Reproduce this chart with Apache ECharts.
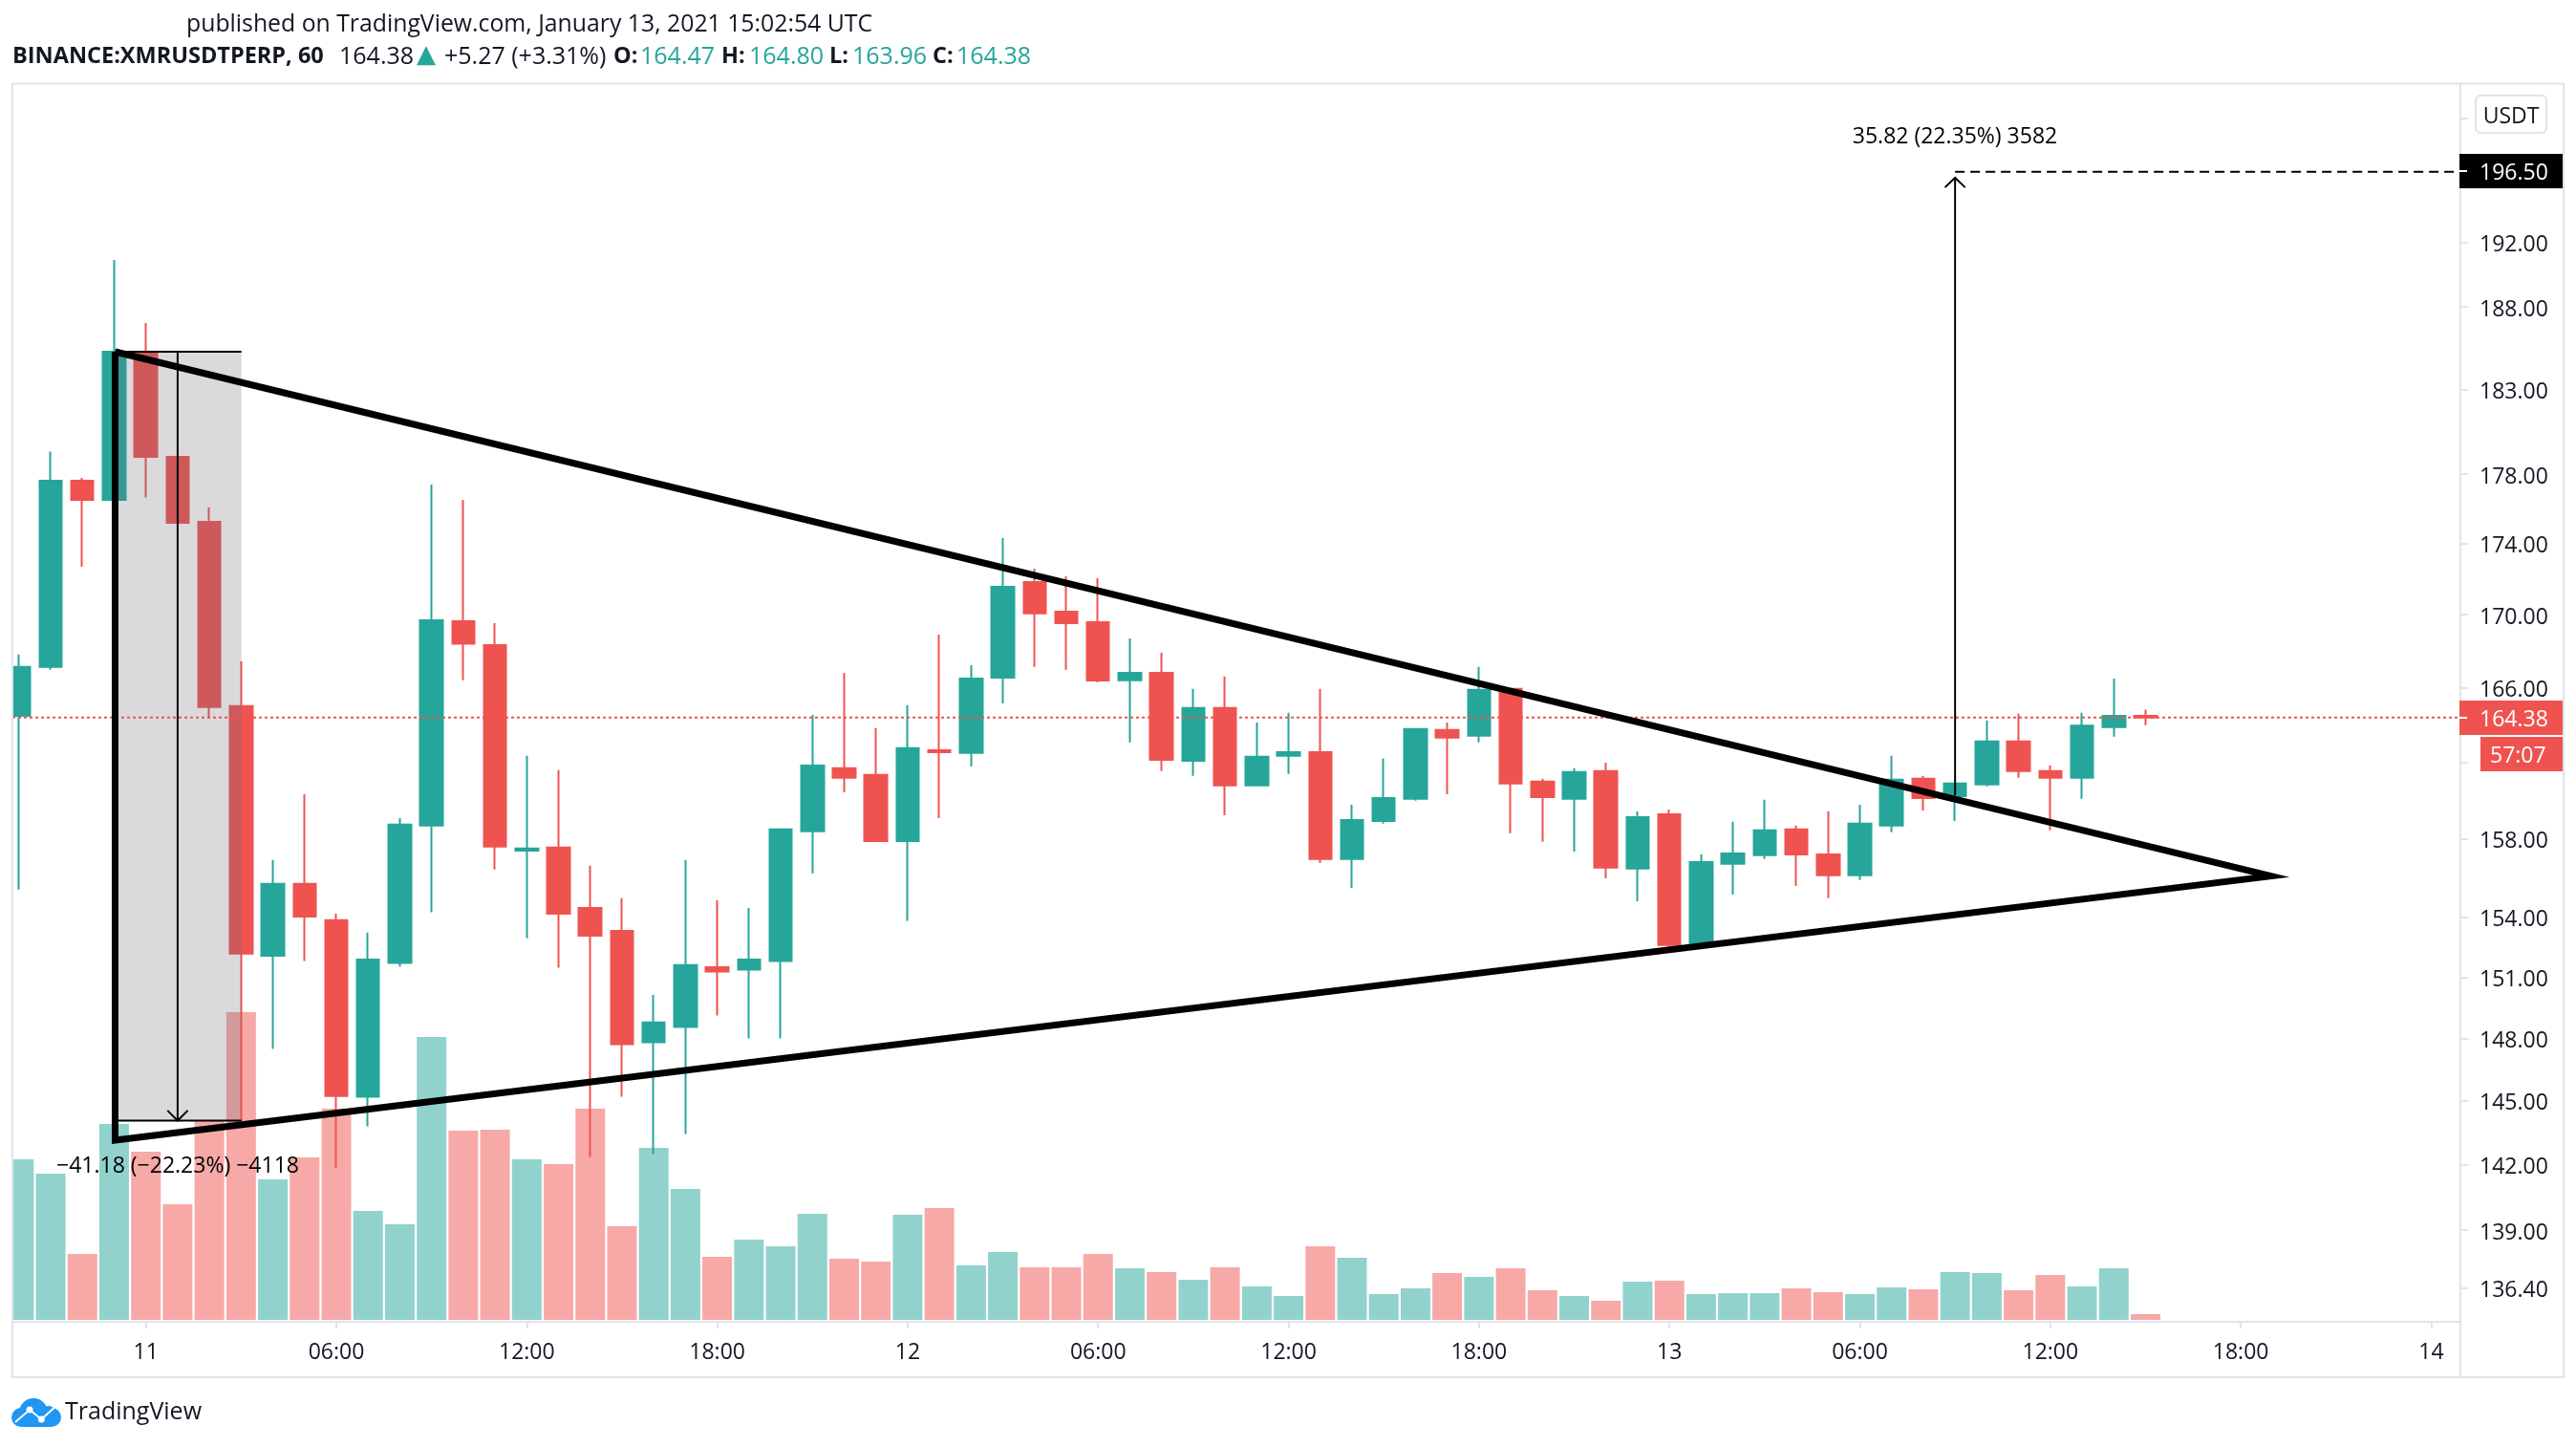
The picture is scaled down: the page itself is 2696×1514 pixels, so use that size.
<!DOCTYPE html>
<html>
<head>
<meta charset="utf-8">
<title>XMRUSDTPERP</title>
<script src="https://cdn.jsdelivr.net/npm/echarts@6/dist/echarts.min.js"></script>
<style>
  html, body { margin: 0; padding: 0; background: #fff; }
  #main { width: 2696px; height: 1514px; }
</style>
</head>
<body>
<div id="main"></div>
<script>
// one row per hourly candle: open, close, low, high
const candles = [
  [164.47,167.12,155.38,167.80],[167.12,177.61,166.96,179.31],[177.61,176.51,172.69,177.78],[176.51,185.27,176.35,190.92],
  [185.15,179.01,176.64,187.02],[179.01,175.19,175.19,179.01],[175.24,164.94,164.33,176.07],[164.99,152.16,144.06,167.43],
  [152.06,155.67,147.49,156.89],[155.67,154.02,151.79,160.31],[153.83,145.24,141.84,154.16],[145.20,151.87,143.80,153.21],
  [151.70,158.72,151.51,159.06],[158.67,169.69,154.23,177.39],[169.64,168.39,166.39,176.51],[168.32,157.58,156.40,169.53],
  [157.38,157.48,152.92,162.33],[157.53,154.16,151.46,161.57],[154.45,153.06,142.37,156.60],[153.30,147.72,145.20,154.94],
  [147.81,148.77,142.50,150.12],[148.55,151.59,143.44,156.89],[151.49,151.27,149.11,154.84],[151.37,151.87,148.00,154.45],
  [151.79,158.47,148.00,158.50],[158.37,161.82,156.21,164.52],[161.67,161.17,160.41,166.79],[161.32,157.87,157.83,163.81],
  [157.87,162.74,153.80,165.04],[162.63,162.53,159.06,168.90],[162.48,166.49,161.77,167.22],[166.54,171.56,165.14,174.32],
  [171.83,170.07,167.12,172.58],[170.17,169.53,166.96,172.15],[169.59,166.38,166.28,172.04],[166.39,166.80,163.04,168.69],
  [166.80,162.12,161.52,167.90],[162.07,164.89,161.27,165.93],[164.89,160.77,159.21,166.60],[160.77,162.28,160.77,164.11],
  [162.33,162.53,161.37,164.63],[162.53,156.94,156.74,165.93],[156.94,158.96,155.47,159.76],[158.91,160.11,158.77,162.18],
  [160.06,163.76,159.96,163.81],[163.71,163.30,160.31,164.11],[163.40,165.88,163.04,167.12],[165.93,160.87,158.27,165.98],
  [160.97,160.16,157.83,161.12],[160.06,161.47,157.33,161.67],[161.52,156.50,155.96,161.97],[156.45,159.11,154.79,159.41],
  [159.26,152.59,152.49,159.51],[152.68,156.79,152.54,157.18],[156.70,157.23,155.13,158.87],[157.14,158.42,156.94,160.01],
  [158.47,157.18,155.57,158.67],[157.18,156.11,154.94,159.41],[156.11,158.77,155.87,159.76],[158.67,161.07,158.32,162.33],
  [161.12,160.11,159.46,161.27],[160.21,160.87,158.91,160.87],[160.82,163.10,160.72,164.22],[163.10,161.52,161.17,164.58],
  [161.52,161.17,158.42,161.82],[161.17,163.94,160.06,164.63],[163.86,164.47,163.35,166.49],[164.47,164.38,163.96,164.80]
];
// volume has no scale on the chart, so these are relative units
const volumes = [
  168,153,69,205,176,121,209,322,147,170,221,114,100,296,198,199,168,163,221,98,180,137,66,84,77,111,64,61,
  110,117,57,71,55,55,69,54,50,42,55,35,25,77,65,27,33,49,45,54,31,25,20,40,41,27,28,28,33,29,27,34,32,50,49,31,47,35,54,6
];
const priceTicks = [200,196,192,188,183,178,174,170,166,162,158,154,151,148,145,142,139,136.4];
const timeTicks = [4,10,16,22,28,34,40,46,52,58,64,70,76];
const timeLabels = ['11','06:00','12:00','18:00','12','06:00','12:00','18:00','13','06:00','12:00','18:00','14'];

// drawings on the chart, [bar index, price]
const triangle = [[3.03,185.27],[70.95,156.07],[3.03,143.15],[3.03,185.27]];
const measureDown = { left: 3.03, right: 7.01, top: 185.27, bottom: 144.07, x: 5, wing: 144.55 };
const measureUp = { x: 61, from: 160.26, tip: 196.12, wing: 195.5 };
const targetPrice = 196.5;
const lastPrice = 164.38;

const green = '#26a69a', red = '#ef5350', ink = '#131722', frame = '#e0e3eb';
const font = '"Open Sans"';
const xMin = -0.205, xMax = 76.92;

function drawing(points, width, extra) {
  return {
    type: 'line', data: points, symbol: 'none', z: 6, silent: true, animation: false,
    lineStyle: Object.assign({ color: '#000', width: width, join: 'miter', cap: 'butt' }, extra || {})
  };
}

function label(x, y, text, size, opts) {
  return {
    type: 'text', x: x, y: y, z: 100,
    style: Object.assign({ text: text, font: size + 'px ' + font, fill: ink, textVerticalAlign: 'middle' }, opts || {})
  };
}

function box(x, y, w, h, fill, opts) {
  return { type: 'rect', z: (opts && opts.z) || 90, shape: Object.assign({ x: x, y: y, width: w, height: h }, opts && opts.shape), style: Object.assign({ fill: fill }, opts && opts.style) };
}

function rule(x1, y1, x2, y2, color) {
  return { type: 'line', z: color ? 95 : 80, shape: { x1: x1, y1: y1, x2: x2, y2: y2 }, style: { stroke: color || frame, lineWidth: 2 } };
}

// the legend row is laid out field by field, its gaps are wider than a space
function legendField(x, name, value) {
  return [
    label(x[0], 59.5, name, 23.5, { font: 'bold 23.5px ' + font }),
    label(x[1], 59.5, value, 25, { fill: green })
  ];
}

const chart = echarts.init(document.getElementById('main'), null, { renderer: 'canvas' });
chart.setOption({
  animation: false,
  backgroundColor: '#fff',
  textStyle: { fontFamily: font },
  grid: { left: 13, top: 88, width: 2562, height: 1293 },
  xAxis: {
    type: 'value', min: xMin, max: xMax, offset: 2, splitLine: { show: false },
    axisLine: { show: true, onZero: false, lineStyle: { color: frame, width: 2 } },
    axisTick: { show: true, length: 7, customValues: timeTicks, lineStyle: { color: frame, width: 2 } },
    axisLabel: {
      customValues: timeTicks, margin: 21, fontSize: 23, color: ink, fontFamily: font,
      formatter: v => timeLabels[timeTicks.indexOf(v)]
    }
  },
  yAxis: [{
    type: 'log', logBase: 10, min: 134.98, max: 202.22, position: 'right', splitLine: { show: false }, minorTick: { show: false },
    axisLine: { show: true, onZero: false, lineStyle: { color: frame, width: 2 } },
    axisTick: { show: true, length: 8, customValues: priceTicks, lineStyle: { color: frame, width: 2 } },
    axisLabel: {
      customValues: priceTicks, margin: 20,
      formatter: v => '{p|' + v.toFixed(2) + '}',
      // top padding pushes the digits down onto the tick
      rich: { p: { padding: [6, 0, 0, 0], fontSize: 23, color: ink, fontFamily: font } }
    }
  }, {
    type: 'value', min: 0, max: 1293, show: false, splitLine: { show: false }
  }],
  series: [
    {
      type: 'bar', yAxisIndex: 1, barWidth: 31, z: 1, silent: true,
      data: volumes.map((v, i) => ({
        value: [i, v],
        itemStyle: { color: candles[i][1] >= candles[i][0] ? 'rgba(38,166,154,0.5)' : 'rgba(239,83,80,0.5)' }
      }))
    },
    {
      type: 'candlestick', z: 2, barWidth: 24, silent: true, clip: true,
      data: candles.map((c, i) => [i, c[0], c[1], c[2], c[3]]),
      encode: { x: 0, y: [1, 2, 3, 4] },
      itemStyle: { color: green, color0: red, borderColor: green, borderColor0: red, borderWidth: 2 }
    },
    drawing([[xMin, lastPrice], [xMax, lastPrice]], 2, { color: red, type: [3, 3] }),
    {
      type: 'custom', z: 5, silent: true,
      data: [[measureDown.left, measureDown.top, measureDown.right, measureDown.bottom]],
      encode: { x: [0, 2], y: [1, 3] },
      renderItem: (params, api) => {
        const a = api.coord([api.value(0), api.value(1)]);
        const b = api.coord([api.value(2), api.value(3)]);
        return { type: 'rect', shape: { x: a[0], y: a[1], width: b[0] - a[0], height: b[1] - a[1] }, style: { fill: 'rgba(106,109,120,0.25)' } };
      }
    },
    drawing([[measureDown.left, measureDown.top], [measureDown.right, measureDown.top]], 2),
    drawing([[measureDown.left, measureDown.bottom], [measureDown.right, measureDown.bottom]], 2),
    drawing([[measureDown.x, measureDown.top], [measureDown.x, measureDown.bottom]], 2),
    drawing([[measureDown.x - 0.32, measureDown.wing], [measureDown.x, measureDown.bottom], [measureDown.x + 0.32, measureDown.wing]], 2),
    drawing([[measureUp.x, measureUp.from], [measureUp.x, measureUp.tip]], 2),
    drawing([[measureUp.x - 0.32, measureUp.wing], [measureUp.x, measureUp.tip], [measureUp.x + 0.32, measureUp.wing]], 2),
    drawing([[measureUp.x, targetPrice], [xMax, targetPrice]], 2, { type: [10, 6] }),
    drawing(triangle, 7)
  ],
  graphic: { elements: [
    // the first candle and bar hang over the left edge of the pane
    box(0, 88, 12, 1295, '#fff', { z: 70 }),
    rule(13, 87.5, 2683, 87.5), rule(13, 87, 13, 1442), rule(2683, 87, 2683, 1442), rule(13, 1441, 2683, 1441), rule(2575, 1380, 2575, 1441),
    // price scale flags
    box(2574, 100, 91, 39, '#fff', { shape: { x: 2591, width: 74, r: 5 }, style: { stroke: frame, lineWidth: 2 } }),
    label(2628, 122, 'USDT', 23, { textAlign: 'center' }),
    box(2574, 161, 108, 36, '#000'),
    rule(2574, 179, 2582, 179, '#fff'),
    label(2595, 181, '196.50', 23, { fill: '#fff' }),
    box(2574, 733, 108, 36, red),
    rule(2574, 751, 2582, 751, '#fff'),
    label(2595, 753, '164.38', 23, { fill: '#fff' }),
    box(2596, 771, 86, 36, red),
    label(2606, 791, '57:07', 23, { fill: '#fff' }),
    // header
    label(195, 25.5, 'published on TradingView.com, January 13, 2021 15:02:54 UTC', 24.8),
    label(13, 59.5, 'BINANCE:XMRUSDTPERP, 60', 23.5, { font: 'bold 23.5px ' + font }),
    label(355, 59.5, '164.38', 25),
    label(436, 58.5, '▲', 26, { font: '26px "DejaVu Sans"', fill: green }),
    label(465, 59.5, '+5.27 (+3.31%)', 25),
    ...legendField([642, 670], 'O:', '164.47'),
    ...legendField([755, 784], 'H:', '164.80'),
    ...legendField([868, 892], 'L:', '163.96'),
    ...legendField([976, 1001], 'C:', '164.38'),
    // measure captions
    label(186, 1220, '\u221241.18 (\u221222.23%) \u22124118', 23, { textAlign: 'center', fill: '#000' }),
    label(2046, 143, '35.82 (22.35%) 3582', 23, { textAlign: 'center', fill: '#000' }),
    // logo: cloud built from overlapping shapes
    { type: 'circle', z: 100, shape: { cx: 35, cy: 1478, r: 15 }, style: { fill: '#2196f3' } },
    { type: 'circle', z: 100, shape: { cx: 22, cy: 1483, r: 10 }, style: { fill: '#2196f3' } },
    { type: 'circle', z: 100, shape: { cx: 54, cy: 1483, r: 10 }, style: { fill: '#2196f3' } },
    { type: 'circle', z: 100, shape: { cx: 51, cy: 1478, r: 7 }, style: { fill: '#2196f3' } },
    box(22, 1483, 32, 10, '#2196f3', { z: 100 }),
    {
      type: 'polyline', z: 101,
      shape: { points: [[16, 1488], [31, 1475], [43.3, 1485], [56.7, 1473]] },
      style: { stroke: '#fff', lineWidth: 2, fill: null }
    },
    { type: 'circle', z: 101, shape: { cx: 31, cy: 1475, r: 3.5 }, style: { fill: '#fff' } },
    { type: 'circle', z: 101, shape: { cx: 43.3, cy: 1485, r: 3.5 }, style: { fill: '#fff' } },
    label(68, 1478, 'TradingView', 25)
  ] }
});
</script>
</body>
</html>
